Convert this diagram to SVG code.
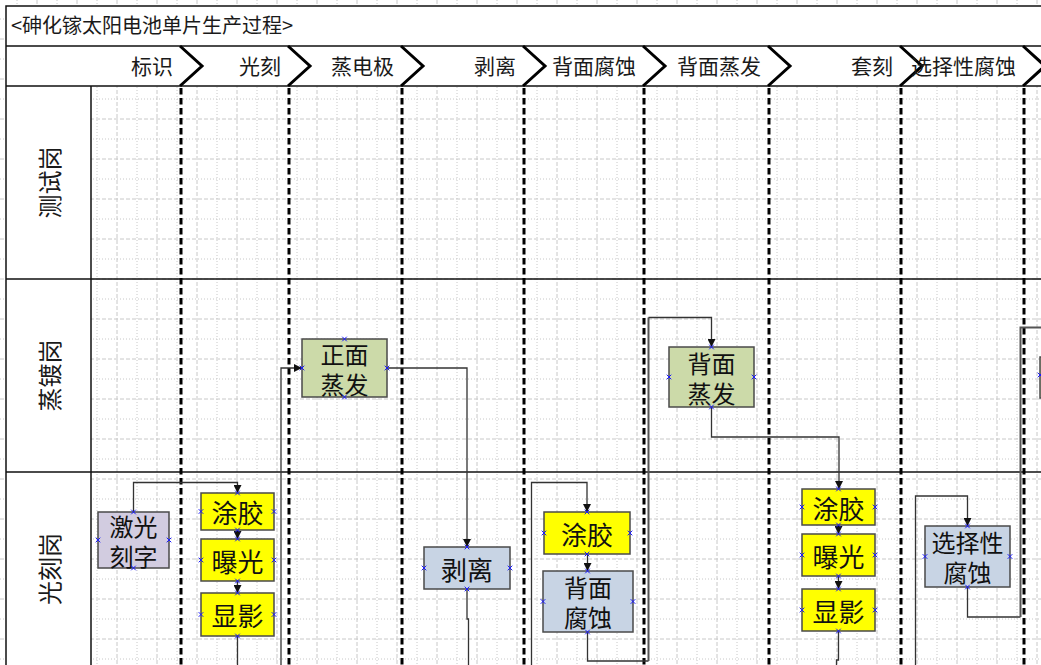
<svg xmlns="http://www.w3.org/2000/svg" xmlns:xlink="http://www.w3.org/1999/xlink" width="1041" height="665" viewBox="0 0 1041 665">
<style>
.gdot{fill:none;stroke:#c8c8c8;stroke-width:1;stroke-dasharray:1 2}
.gdash{fill:none;stroke:#c8c8c8;stroke-width:1;stroke-dasharray:4 2}
.frame{fill:none;stroke:#111;stroke-width:1.5}
.chev{fill:none;stroke:#000;stroke-width:3;stroke-linejoin:miter}
.phase{fill:none;stroke:#000;stroke-width:3;stroke-dasharray:6.5 3.5}
.t{font-family:"Noto Sans CJK SC","Noto Sans",sans-serif;fill:#1a1a1a}
.title{font-size:20px}
.ph{font-size:21px;text-anchor:end}
.lane{font-size:24px;text-anchor:middle;dominant-baseline:central}
.nt{font-size:26px;text-anchor:middle;dominant-baseline:central;fill:#111}
.nt2{font-size:24px;text-anchor:middle;dominant-baseline:central;fill:#111}
.box{stroke:#4a4a4a;stroke-width:1.5}
.yel{fill:#ffff00}
.grn{fill:#ccdaa9}
.blu{fill:#c8d4e4}
.lav{fill:#d2cce0}
.cn{fill:none;stroke:#333;stroke-width:1.3}
.cn2{fill:none;stroke:#555;stroke-width:2}
.cp{fill:none;stroke:#1a1aff;stroke-width:1}
</style>
<defs>
<marker id="arr" viewBox="0 0 10 10" refX="10" refY="5" markerWidth="9" markerHeight="8" markerUnits="userSpaceOnUse" orient="auto"><path d="M0,0 L10,5 L0,10 z" fill="#111"/></marker>
<path id="cx" class="cp" d="M-2.3,-2.3L2.3,2.3M-2.3,2.3L2.3,-2.3"/>
</defs>
<g id="background">
<rect x="0" y="0" width="1041" height="665" fill="#fff"/>
<path class="gdot" d="M17 0V665M57 0V665M97 0V665M137 0V665M177 0V665M217 0V665M257 0V665M297 0V665M337 0V665M377 0V665M417 0V665M457 0V665M497 0V665M537 0V665M577 0V665M617 0V665M657 0V665M697 0V665M737 0V665M777 0V665M817 0V665M857 0V665M897 0V665M937 0V665M977 0V665M1017 0V665M0 19H1041M0 59H1041M0 99H1041M0 139H1041M0 179H1041M0 219H1041M0 259H1041M0 299H1041M0 339H1041M0 379H1041M0 419H1041M0 459H1041M0 499H1041M0 539H1041M0 579H1041M0 619H1041M0 659H1041"/>
<path class="gdash" d="M37 0V665M77 0V665M117 0V665M157 0V665M197 0V665M237 0V665M277 0V665M317 0V665M357 0V665M397 0V665M437 0V665M477 0V665M517 0V665M557 0V665M597 0V665M637 0V665M677 0V665M717 0V665M757 0V665M797 0V665M837 0V665M877 0V665M917 0V665M957 0V665M997 0V665M1037 0V665M0 39H1041M0 79H1041M0 119H1041M0 159H1041M0 199H1041M0 239H1041M0 279H1041M0 319H1041M0 359H1041M0 399H1041M0 439H1041M0 479H1041M0 519H1041M0 559H1041M0 599H1041M0 639H1041"/>
<rect x="6" y="6" width="1035" height="80" fill="#fff"/>
<rect x="6" y="86" width="85" height="579" fill="#fff"/>
</g>
<g id="frame">
<path class="frame" d="M1041 6H6V665M6 46H1041M6 86H1041M91 86V665M6 279H1041M6 472H1041"/>
<text class="t title" x="11" y="33">&lt;砷化镓太阳电池单片生产过程&gt;</text>
</g>
<g id="lanes">
<text class="t lane" transform="translate(48,182.5) rotate(-90)">测试岗</text>
<text class="t lane" transform="translate(48,375.5) rotate(-90)">蒸镀岗</text>
<text class="t lane" transform="translate(48,569) rotate(-90)">光刻岗</text>
</g>
<g id="phases">
<path class="chev" d="M180 46L202 66L180 86M288 46L310 66L288 86M401 46L423 66L401 86M523 46L545 66L523 86M643 46L665 66L643 86M768 46L790 66L768 86M900 46L922 66L900 86M1023 46L1045 66L1023 86"/>
<path class="phase" d="M181 88V665M289 88V665M402 88V665M524 88V665M644 88V665M769 88V665M901 88V665M1024 88V665"/>
<text class="t ph" x="173" y="74">标识</text>
<text class="t ph" x="281" y="74">光刻</text>
<text class="t ph" x="394" y="74">蒸电极</text>
<text class="t ph" x="516" y="74">剥离</text>
<text class="t ph" x="636" y="74">背面腐蚀</text>
<text class="t ph" x="761" y="74">背面蒸发</text>
<text class="t ph" x="893" y="74">套刻</text>
<text class="t ph" x="1016" y="74">选择性腐蚀</text>
</g>
<g id="connectors">
<path class="cn" d="M133.5 512V482.5H237.5V493" marker-end="url(#arr)"/>
<path class="cn" d="M237.5 530V539" marker-end="url(#arr)"/>
<path class="cn" d="M237.5 581V593" marker-end="url(#arr)"/>
<path class="cn" d="M237.5 636V665"/>
<path class="cn" d="M281 665V368H302" marker-end="url(#arr)"/>
<path class="cn" d="M387 368H467V547" marker-end="url(#arr)"/>
<path class="cn" d="M467 589V619H468.5V665"/>
<path class="cn" d="M531.5 665V482.5H587V512" marker-end="url(#arr)"/>
<path class="cn" d="M587.5 554V571" marker-end="url(#arr)"/>
<path class="cn" d="M587.5 632V661H648.5"/>
<path class="cn2" d="M648.5 661V317.5"/>
<path class="cn" d="M648.5 317.5H711.5V347" marker-end="url(#arr)"/>
<path class="cn" d="M711.5 407V437H839V489" marker-end="url(#arr)"/>
<path class="cn" d="M838.5 525V534" marker-end="url(#arr)"/>
<path class="cn" d="M838.5 576V589" marker-end="url(#arr)"/>
<path class="cn" d="M838.5 631V660H836.5V665"/>
<path class="cn" d="M915.5 665V496H967.5V526" marker-end="url(#arr)"/>
<path class="cn" d="M967.5 587V617H1020.5"/>
<path class="cn2" d="M1020.5 617V327.5H1041"/>
</g>
<g id="n-laser">
<rect class="box lav" x="98" y="512" width="71" height="56"/>
<text class="t nt2"><tspan x="133.5" y="525">激光</tspan><tspan x="133.5" y="555">刻字</tspan></text>
<use xlink:href="#cx" x="133.5" y="512"/><use xlink:href="#cx" x="133.5" y="568"/><use xlink:href="#cx" x="98" y="540"/><use xlink:href="#cx" x="169" y="540"/>
</g>
<g id="n-coat1">
<rect class="box yel" x="201" y="493" width="73" height="37"/>
<text class="t nt" x="237.5" y="511.5">涂胶</text>
<use xlink:href="#cx" x="237.5" y="493"/><use xlink:href="#cx" x="237.5" y="530"/><use xlink:href="#cx" x="201" y="511.5"/><use xlink:href="#cx" x="274" y="511.5"/>
</g>
<g id="n-expose1">
<rect class="box yel" x="201" y="539" width="73" height="42"/>
<text class="t nt" x="237.5" y="560">曝光</text>
<use xlink:href="#cx" x="237.5" y="539"/><use xlink:href="#cx" x="237.5" y="581"/><use xlink:href="#cx" x="201" y="560"/><use xlink:href="#cx" x="274" y="560"/>
</g>
<g id="n-develop1">
<rect class="box yel" x="201" y="593" width="73" height="43"/>
<text class="t nt" x="237.5" y="614.5">显影</text>
<use xlink:href="#cx" x="237.5" y="593"/><use xlink:href="#cx" x="237.5" y="636"/><use xlink:href="#cx" x="201" y="614.5"/><use xlink:href="#cx" x="274" y="614.5"/>
</g>
<g id="n-front-evap">
<rect class="box grn" x="302" y="339" width="85" height="58"/>
<text class="t nt2"><tspan x="344.5" y="353">正面</tspan><tspan x="344.5" y="383">蒸发</tspan></text>
<use xlink:href="#cx" x="344.5" y="339"/><use xlink:href="#cx" x="344.5" y="397"/><use xlink:href="#cx" x="302" y="368"/><use xlink:href="#cx" x="387" y="368"/>
</g>
<g id="n-liftoff">
<rect class="box blu" x="424" y="547" width="86" height="42"/>
<text class="t nt" x="467" y="568">剥离</text>
<use xlink:href="#cx" x="467" y="547"/><use xlink:href="#cx" x="467" y="589"/><use xlink:href="#cx" x="424" y="568"/><use xlink:href="#cx" x="510" y="568"/>
</g>
<g id="n-coat2">
<rect class="box yel" x="544" y="512" width="86" height="42"/>
<text class="t nt" x="587" y="533">涂胶</text>
<use xlink:href="#cx" x="587" y="512"/><use xlink:href="#cx" x="587" y="554"/><use xlink:href="#cx" x="544" y="533"/><use xlink:href="#cx" x="630" y="533"/>
</g>
<g id="n-back-etch">
<rect class="box blu" x="543" y="571" width="90" height="61"/>
<text class="t nt2"><tspan x="588" y="586">背面</tspan><tspan x="588" y="616">腐蚀</tspan></text>
<use xlink:href="#cx" x="587.5" y="571"/><use xlink:href="#cx" x="587.5" y="632"/><use xlink:href="#cx" x="543" y="601.5"/><use xlink:href="#cx" x="633" y="601.5"/>
</g>
<g id="n-back-evap">
<rect class="box grn" x="669" y="347" width="85" height="60"/>
<text class="t nt2"><tspan x="711.5" y="362">背面</tspan><tspan x="711.5" y="392">蒸发</tspan></text>
<use xlink:href="#cx" x="711.5" y="347"/><use xlink:href="#cx" x="711.5" y="407"/><use xlink:href="#cx" x="669" y="377"/><use xlink:href="#cx" x="754" y="377"/>
</g>
<g id="n-coat3">
<rect class="box yel" x="802" y="489" width="73" height="36"/>
<text class="t nt" x="838.5" y="507">涂胶</text>
<use xlink:href="#cx" x="838.5" y="489"/><use xlink:href="#cx" x="838.5" y="525"/><use xlink:href="#cx" x="802" y="507"/><use xlink:href="#cx" x="875" y="507"/>
</g>
<g id="n-expose3">
<rect class="box yel" x="802" y="534" width="73" height="42"/>
<text class="t nt" x="838.5" y="555">曝光</text>
<use xlink:href="#cx" x="838.5" y="534"/><use xlink:href="#cx" x="838.5" y="576"/><use xlink:href="#cx" x="802" y="555"/><use xlink:href="#cx" x="875" y="555"/>
</g>
<g id="n-develop3">
<rect class="box yel" x="802" y="589" width="73" height="42"/>
<text class="t nt" x="838.5" y="610">显影</text>
<use xlink:href="#cx" x="838.5" y="589"/><use xlink:href="#cx" x="838.5" y="631"/><use xlink:href="#cx" x="802" y="610"/><use xlink:href="#cx" x="875" y="610"/>
</g>
<g id="n-select-etch">
<rect class="box blu" x="925" y="526" width="85" height="61"/>
<text class="t nt2"><tspan x="967.5" y="541">选择性</tspan><tspan x="967.5" y="571">腐蚀</tspan></text>
<use xlink:href="#cx" x="967.5" y="526"/><use xlink:href="#cx" x="967.5" y="587"/><use xlink:href="#cx" x="925" y="556.5"/><use xlink:href="#cx" x="1010" y="556.5"/>
</g>
<g id="n-next">
<rect class="box grn" x="1040" y="357" width="85" height="41" stroke="#999"/>
<use xlink:href="#cx" x="1040" y="375"/>
</g>
</svg>
